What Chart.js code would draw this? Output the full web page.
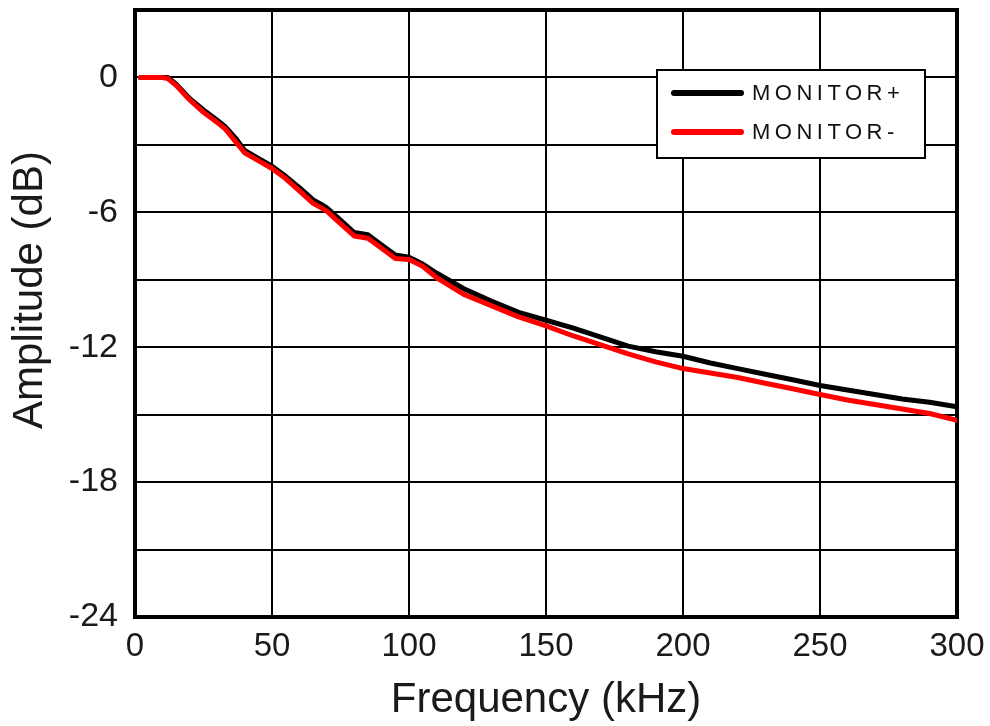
<!DOCTYPE html>
<html>
<head>
<meta charset="utf-8">
<script src="https://cdn.jsdelivr.net/npm/chart.js@4/dist/chart.umd.min.js"></script>
<style>
  html, body { margin: 0; padding: 0; background: #fff; }
  #wrap { width: 990px; height: 726px; }
</style>
</head>
<body>
<div id="wrap"><canvas id="c" width="990" height="726"></canvas></div>
<script>
// Frequency response of the two monitor outputs
const freqKHz = [2, 5, 10, 12, 15, 20, 25, 30, 33, 37, 40, 45, 50, 55, 60, 65, 68, 70, 75, 80, 85, 90, 95, 100,
  105, 110, 120, 130, 140, 150, 160, 170, 180, 190, 200, 210, 220, 230, 240, 250, 260, 270, 280, 290, 300];

const monitorPlus = [0, 0, 0, 0, -0.3, -0.95, -1.45, -1.9, -2.2, -2.75, -3.25, -3.6, -3.95, -4.4, -4.9, -5.45, -5.65, -5.8, -6.35, -6.9, -7.0, -7.45, -7.9, -8.0,
  -8.3, -8.7, -9.4, -9.95, -10.45, -10.8, -11.15, -11.55, -11.95, -12.2, -12.4, -12.7, -12.95, -13.2, -13.45, -13.7, -13.9, -14.1, -14.3, -14.45, -14.65];

const monitorMinus = [0, 0, 0, -0.05, -0.35, -1.0, -1.55, -2.0, -2.3, -2.9, -3.35, -3.7, -4.05, -4.5, -5.05, -5.6, -5.8, -5.95, -6.5, -7.05, -7.15, -7.6, -8.05, -8.1,
  -8.4, -8.9, -9.65, -10.15, -10.65, -11.05, -11.5, -11.9, -12.3, -12.65, -12.95, -13.15, -13.35, -13.6, -13.85, -14.1, -14.35, -14.55, -14.75, -14.95, -15.25];

const seriesNames = ['MONITOR+', 'MONITOR-'];
const seriesColors = ['#000000', '#ff0000'];
const xTicks = [0, 50, 100, 150, 200, 250, 300];
const yLabelled = [0, -6, -12, -18, -24];
const yTitle = 'Amplitude (dB)';

const FONT = '"Liberation Sans", Arial, Helvetica, sans-serif';

const toPoints = (xs, ys) => xs.map((x, i) => ({ x: x, y: ys[i] }));

// Outer frame of the plotting area, drawn beneath the traces
const framePlugin = {
  id: 'frame',
  beforeDatasetsDraw(chart) {
    const a = chart.chartArea, ctx = chart.ctx;
    ctx.save();
    ctx.strokeStyle = '#000';
    ctx.lineWidth = 4;
    ctx.strokeRect(a.left, a.top, a.right - a.left, a.bottom - a.top);
    ctx.restore();
  }
};

// Rotated y-axis title, set a little above the axis midpoint
const yTitlePlugin = {
  id: 'yTitle',
  afterDraw(chart) {
    const ctx = chart.ctx;
    ctx.save();
    ctx.translate(30, 290);
    ctx.rotate(-Math.PI / 2);
    ctx.fillStyle = '#1a1a1a';
    ctx.font = '42px ' + FONT;
    ctx.textAlign = 'center';
    ctx.textBaseline = 'middle';
    ctx.fillText(yTitle, 0, 0);
    ctx.restore();
  }
};

// Boxed legend in the upper right of the plot
const boxLegend = {
  id: 'boxLegend',
  afterDatasetsDraw(chart) {
    const ctx = chart.ctx;
    const bx = 657, by = 70, bw = 268, bh = 88;
    ctx.save();
    ctx.fillStyle = '#fff';
    ctx.fillRect(bx, by, bw, bh);
    ctx.strokeStyle = '#000';
    ctx.lineWidth = 2;
    ctx.strokeRect(bx, by, bw, bh);
    const rows = [93, 132];
    seriesNames.forEach((name, i) => {
      ctx.strokeStyle = seriesColors[i];
      ctx.lineWidth = 6;
      ctx.lineCap = 'round';
      ctx.beginPath();
      ctx.moveTo(674, rows[i]);
      ctx.lineTo(741, rows[i]);
      ctx.stroke();
      ctx.fillStyle = '#111';
      ctx.font = '22px ' + FONT;
      ctx.letterSpacing = '4.5px';
      ctx.textBaseline = 'middle';
      ctx.textAlign = 'left';
      ctx.fillText(name, 752, rows[i] + 1);
    });
    ctx.restore();
  }
};

new Chart(document.getElementById('c'), {
  type: 'line',
  data: {
    datasets: [
      {
        label: seriesNames[0],
        data: toPoints(freqKHz, monitorPlus),
        borderColor: seriesColors[0],
        borderWidth: 5,
        pointRadius: 0,
        tension: 0,
        borderCapStyle: 'round',
        borderJoinStyle: 'round',
        order: 1
      },
      {
        label: seriesNames[1],
        data: toPoints(freqKHz, monitorMinus),
        borderColor: seriesColors[1],
        borderWidth: 5,
        pointRadius: 0,
        tension: 0,
        borderCapStyle: 'round',
        borderJoinStyle: 'round',
        order: 0
      }
    ]
  },
  options: {
    responsive: false,
    animation: false,
    devicePixelRatio: 1,
    layout: { padding: { left: 0, right: 33, top: 10, bottom: 0 } },
    plugins: {
      legend: { display: false },
      tooltip: { enabled: false }
    },
    scales: {
      x: {
        type: 'linear',
        min: 0,
        max: 300,
        afterBuildTicks(scale) { scale.ticks = xTicks.map(v => ({ value: v })); },
        afterFit(scale) { scale.height = 109; scale.paddingLeft = 0; scale.paddingRight = 0; },
        grid: { color: '#000', lineWidth: 2, drawTicks: false },
        border: { display: true, color: '#000', width: 4 },
        ticks: {
          color: '#1a1a1a',
          font: { family: FONT, size: 33 },
          padding: 10,
          maxRotation: 0,
          autoSkip: false
        },
        title: {
          display: true,
          text: 'Frequency (kHz)',
          color: '#1a1a1a',
          font: { family: FONT, size: 42 },
          padding: { top: 0, bottom: 0 }
        }
      },
      y: {
        type: 'linear',
        min: -24,
        max: 3,
        afterBuildTicks(scale) {
          const t = [];
          for (let v = -24; v <= 3; v += 3) t.push({ value: v });
          scale.ticks = t;
        },
        afterFit(scale) { scale.width = 135; scale.paddingTop = 0; scale.paddingBottom = 0; },
        grid: { color: '#000', lineWidth: 2, drawTicks: false },
        border: { display: true, color: '#000', width: 4 },
        ticks: {
          color: '#1a1a1a',
          font: { family: FONT, size: 34 },
          padding: 17,
          autoSkip: false,
          callback: (v) => yLabelled.includes(v) ? String(v) : ''
        },
        title: { display: false }
      }
    }
  },
  plugins: [framePlugin, yTitlePlugin, boxLegend]
});
</script>
</body>
</html>
